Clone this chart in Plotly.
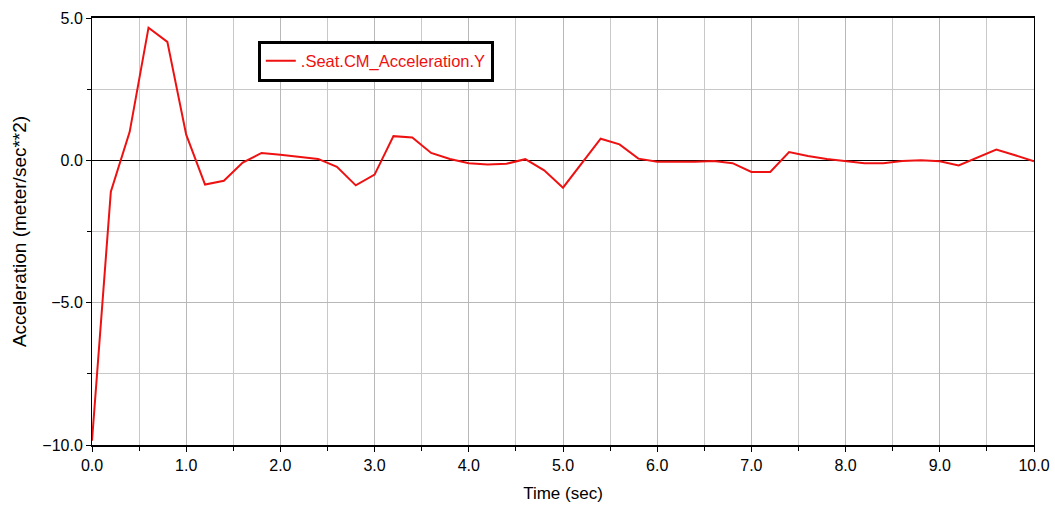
import plotly.graph_objects as go

time_s = [round(i * 0.2, 1) for i in range(51)]
accel_y = [-9.85, -1.1, 1.0, 4.66, 4.16, 0.9, -0.85, -0.72, -0.08, 0.26,
           0.2, 0.12, 0.05, -0.23, -0.88, -0.5, 0.85, 0.8, 0.26, 0.05,
           -0.1, -0.15, -0.12, 0.04, -0.35, -0.96, -0.1, 0.76, 0.56, 0.06,
           -0.05, -0.05, -0.05, -0.02, -0.1, -0.41, -0.41, 0.29, 0.15, 0.05,
           -0.03, -0.1, -0.1, -0.02, 0.0, -0.03, -0.18, 0.1, 0.38, 0.18,
           -0.03]
series_name = ".Seat.CM_Acceleration.Y"

fig = go.Figure()
fig.add_trace(go.Scatter(x=time_s, y=accel_y, mode="lines", name=series_name,
                         line=dict(color="#ee1111", width=2)))

font = "Liberation Sans, Arial, sans-serif"
fig.update_layout(
    width=1055, height=510,
    margin=dict(l=92, r=21, t=18, b=65, autoexpand=False),
    paper_bgcolor="white", plot_bgcolor="white",
    font=dict(family=font, size=16, color="black"),
    showlegend=True,
    legend=dict(x=0.176, y=0.947, xanchor="left", yanchor="top",
                bordercolor="black", borderwidth=3, bgcolor="white",
                font=dict(color="#ee1111", size=16.5, family=font)),
)
fig.update_xaxes(
    range=[0, 10], dtick=1, tickformat=".1f", automargin=False,
    showgrid=True, gridcolor="#b8b8b8", gridwidth=1,
    minor=dict(dtick=0.5, showgrid=True, gridcolor="#c8c8c8", ticks="outside", ticklen=4, tickcolor="black"),
    ticks="outside", ticklen=5, tickcolor="black",
    showline=True, linecolor="black", linewidth=2, mirror=True,
    zeroline=False,
    title=dict(text="Time (sec)", font=dict(size=17), standoff=14),
    tickfont=dict(size=16),
)
fig.update_yaxes(
    range=[-10, 5], dtick=5, tickformat=".1f", automargin=False,
    showgrid=True, gridcolor="#b8b8b8", gridwidth=1,
    minor=dict(dtick=2.5, showgrid=True, gridcolor="#c8c8c8", ticks="outside", ticklen=4, tickcolor="black"),
    ticks="outside", ticklen=5, tickcolor="black",
    showline=True, linecolor="black", linewidth=1, mirror=True,
    zeroline=True, zerolinecolor="black", zerolinewidth=1,
    title=dict(text="Acceleration (meter/sec**2)", font=dict(size=19), standoff=10),
    tickfont=dict(size=16),
)

fig.write_html("out.html")
